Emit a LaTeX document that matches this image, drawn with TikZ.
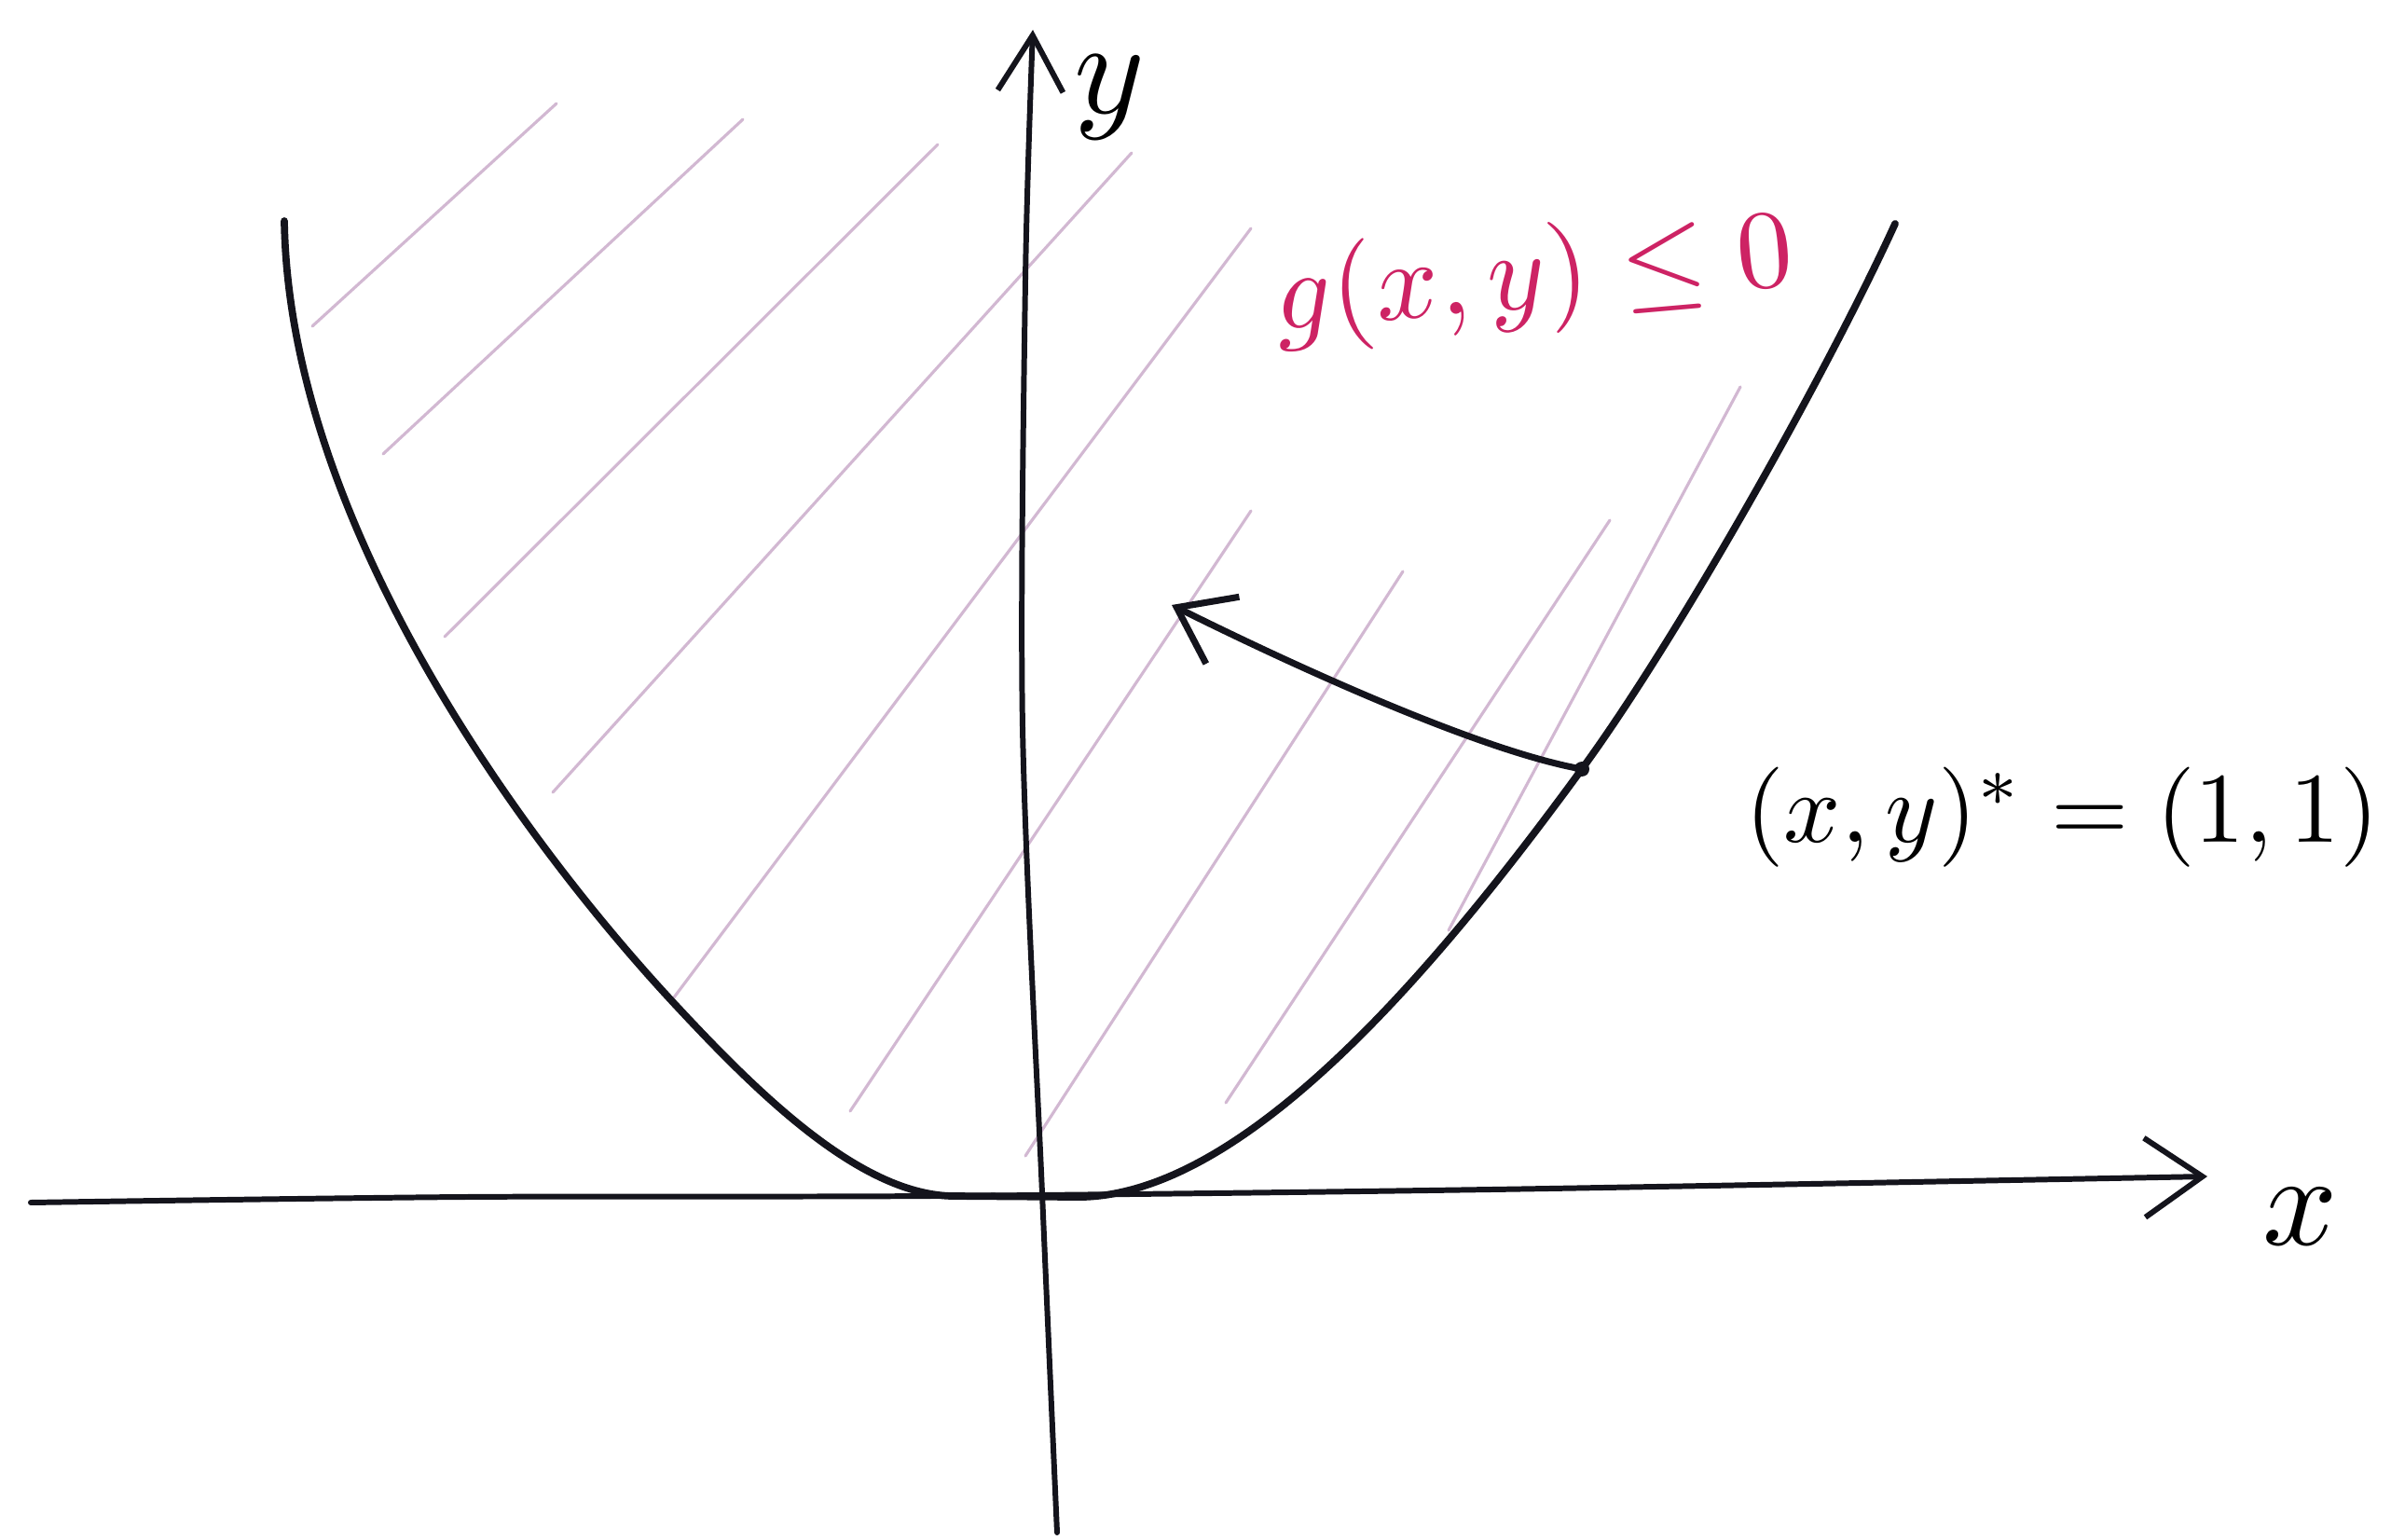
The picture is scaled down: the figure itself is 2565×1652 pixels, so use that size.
\documentclass[tikz,border=0pt]{standalone}
\usetikzlibrary{arrows.meta}
\definecolor{gpink}{RGB}{205,35,100}
\definecolor{hatchc}{RGB}{210,184,210}
\definecolor{ink}{RGB}{20,20,28}
\begin{document}
\begin{tikzpicture}[x=0.01cm,y=-0.01cm,
  curve/.style={ink, line width=2.2pt, line cap=round, line join=round},
  axis/.style={ink, line width=1.7pt, line cap=round, line join=round,
    -{Straight Barb[length=0.62cm,width=0.85cm]}},
  hatchline/.style={hatchc, line width=0.9pt, line cap=round},
  lbl/.style={inner sep=0pt}]
\useasboundingbox (0,0) rectangle (2565,1652);
% hatching
\draw[hatchline] (335,350) -- (597,111);
\draw[hatchline] (411,487) -- (797,128);
\draw[hatchline] (477,683) -- (1006,155);
\draw[hatchline] (593,850) -- (1214,164);
\draw[hatchline] (723,1070) -- (1342,245);
\draw[hatchline] (912,1192) -- (1342,548);
\draw[hatchline] (1100,1240) -- (1505,613);
\draw[hatchline] (1315,1183) -- (1727,558);
\draw[hatchline] (1554,998) -- (1867,415);
% axes
\draw[axis] plot[smooth] coordinates {(33,1290) (500,1284) (1000,1283) (1600,1276) (2368,1262)};
\draw[axis, -{Straight Barb[length=0.6cm,width=0.7cm]}] plot[smooth] coordinates {(1134,1644) (1118,1280) (1097,780) (1100,300) (1108,32)};
\node[lbl, scale=4] (xl) at (2468,1305) {$x$};
\node[lbl, scale=4.1] (yl) at (1190,104) {$y$};
% boundary curve
\coordinate (P) at (1697,825);
\draw[curve] (305,237) .. controls (310,560) and (560,900) .. (720,1073)
  .. controls (810,1170) and (920,1280) .. (1020,1283)
  -- (1150,1284)
  .. controls (1330,1290) and (1540,1040) .. (P)
  .. controls (1800,684) and (1960,400) .. (2033,240);
% optimum point and arrow
\coordinate (T) at (1257,649);
\fill[ink] (P) circle (8);
\draw[curve, line width=2pt, -{Straight Barb[length=0.55cm,width=0.8cm]}] (P) .. controls (1600,808) and (1420,730) .. (T);
% labels
\node[lbl, text=gpink, scale=3.4, rotate=5] (g) at (1646,300) {$g(x,y)\leq 0$};
\node[lbl, scale=3.05] (opt) at (2212,877) {$(x,y)^{*}=(1,1)$};
\end{tikzpicture}
\end{document}
